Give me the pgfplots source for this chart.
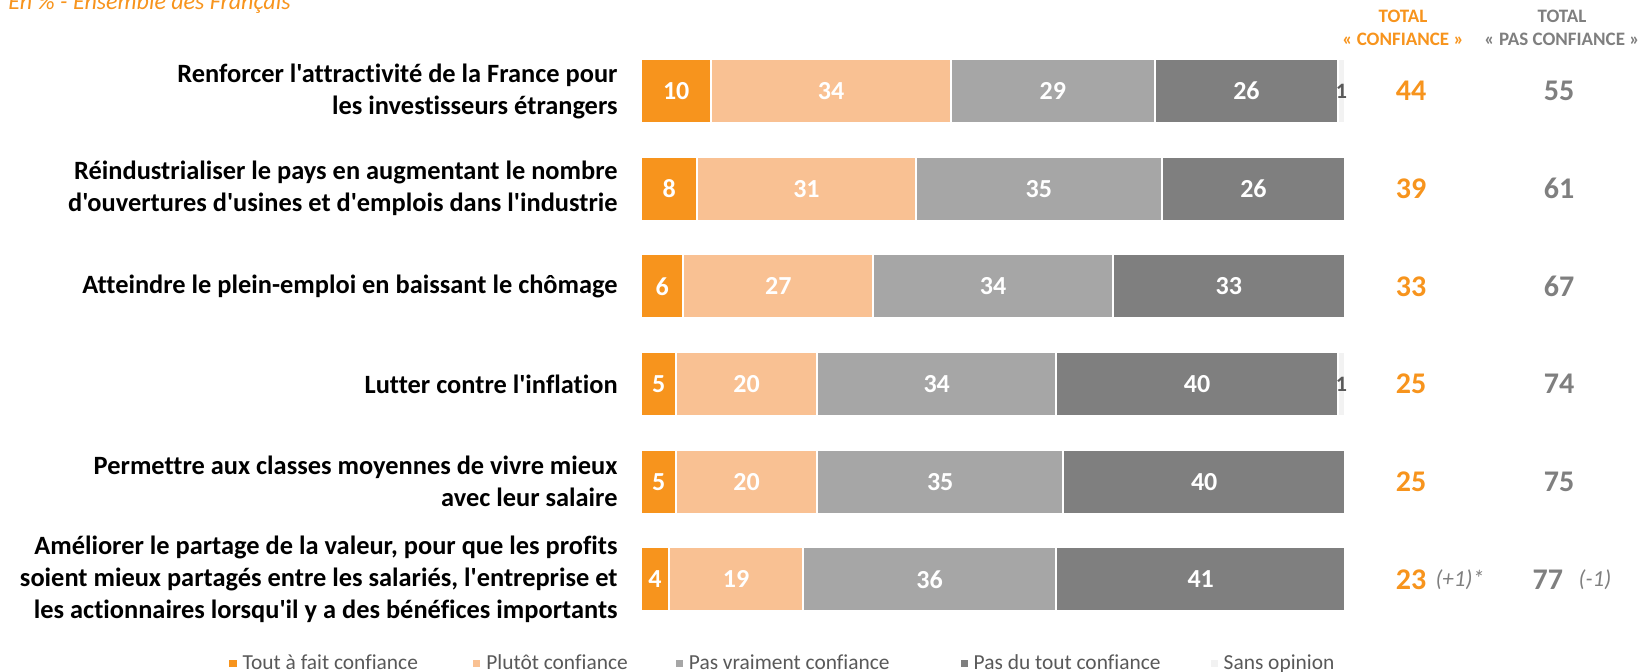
\documentclass[border=0pt]{standalone}
\usepackage{pgfplots}
\pgfplotsset{compat=1.18}
\usepackage{pgfplotstable}
\usepackage{fontspec}
\setmainfont{Carlito}[Ligatures={NoCommon}]
\newfontfamily\carl{Carlito}[Ligatures={NoCommon}]
\definecolor{cA}{HTML}{F7941D}
\definecolor{cB}{HTML}{F9C193}
\definecolor{cC}{HTML}{A6A6A6}
\definecolor{cD}{HTML}{7F7F7F}
\definecolor{cE}{HTML}{F2F2F2}
\definecolor{txtgrey}{HTML}{7F7F7F}
\definecolor{leggrey}{HTML}{595959}

\pgfplotstableread{
row a b c d e
0 10 34 29 26 1
1 8 31 35 26 0
2 6 27 34 33 0
3 5 20 34 40 1
4 5 20 35 40 0
5 4 19 36 41 0
}\data

\pgfplotstableread{
row conf pas pasx
0 44 55 130.4
1 39 61 130.4
2 33 67 130.4
3 25 74 130.4
4 25 75 130.4
5 23 77 128.8
}\totals

\pgfplotsset{
  common/.style={
    scale only axis,
    width=352pt, height=293pt,
    at={(320.5pt,21.4pt)}, anchor=south west,
    xmin=0, xmax=100, ymin=-0.5, ymax=5.5,
    y dir=reverse,
    clip=false,
  },
}

\begin{document}
\begin{tikzpicture}
\useasboundingbox (0,0) rectangle (820pt,335.5pt);

\begin{axis}[common,
  xbar stacked,
  bar width=32pt,
  axis line style={draw=none},
  tick style={draw=none},
  xtick=\empty,
  ytick={0,1,2,3,4,5},
  yticklabels={
    {Renforcer l'attractivité de la France pour\\les investisseurs étrangers},
    {Réindustrialiser le pays en augmentant le nombre\\d'ouvertures d'usines et d'emplois dans l'industrie},
    {Atteindre le plein-emploi en baissant le chômage},
    {Lutter contre l'inflation},
    {Permettre aux classes moyennes de vivre mieux\\avec leur salaire},
    {Améliorer le partage de la valeur, pour que les profits\\soient mieux partagés entre les salariés, l'entreprise et\\les actionnaires lorsqu'il y a des bénéfices importants}
  },
  yticklabel style={align=right, inner sep=0pt, xshift=-11.5pt,
    font=\carl\bfseries\fontsize{13.2}{16}\selectfont, text=black},
  legend columns=5,
  legend style={draw=none, inner sep=0pt, at={(-0.588,-0.0600)}, anchor=west,
    font=\fontsize{10.7}{12}\selectfont, text=leggrey,
    /tikz/every even column/.append style={column sep=22pt}},
  legend image code/.code={\fill[#1] (0pt,-2.3pt) rectangle (4.6pt,2.3pt);},
]
\addplot[fill=cA, draw=white, line width=1pt] table[x=a, y=row]{\data};
\addplot[fill=cB, draw=white, line width=1pt] table[x=b, y=row]{\data};
\addplot[fill=cC, draw=white, line width=1pt] table[x=c, y=row]{\data};
\addplot[fill=cD, draw=white, line width=1pt] table[x=d, y=row]{\data};
\addplot[fill=cE, draw=white, line width=1pt] table[x=e, y=row]{\data};
\legend{Tout à fait confiance\hspace{2.6pt}\mbox{}, Plutôt confiance\hspace{-1pt}\mbox{}, Pas vraiment confiance\hspace{10.5pt}\mbox{}, Pas du tout confiance, Sans opinion}
\end{axis}

\begin{axis}[common, hide axis,
  /pgf/number format/assume math mode=true,
  point meta=explicit,
  nodes near coords,
  every node near coord/.append style={anchor=center, inner sep=0pt,
    font=\bfseries\fontsize{13}{16}\selectfont, text=white},
]
\addplot[draw=none, mark=none] table[x expr=\thisrow{a}/2, y=row, meta=a]{\data};
\addplot[draw=none, mark=none] table[x expr=\thisrow{a}+\thisrow{b}/2, y=row, meta=b]{\data};
\addplot[draw=none, mark=none] table[x expr=\thisrow{a}+\thisrow{b}+\thisrow{c}/2, y=row, meta=c]{\data};
\addplot[draw=none, mark=none] table[x expr=\thisrow{a}+\thisrow{b}+\thisrow{c}+\thisrow{d}/2, y=row, meta=d]{\data};
\addplot[draw=none, mark=none, restrict expr to domain={\thisrow{e}}{0.5:100},
  every node near coord/.append style={text=leggrey, font=\bfseries\fontsize{11}{13}\selectfont}]
  table[x expr=\thisrow{a}+\thisrow{b}+\thisrow{c}+\thisrow{d}+\thisrow{e}/2, y=row, meta=e]{\data};
\addplot[draw=none, mark=none,
  every node near coord/.append style={text=cA, font=\bfseries\fontsize{15}{18}\selectfont}]
  table[x expr=109.4, y=row, meta=conf]{\totals};
\addplot[draw=none, mark=none,
  every node near coord/.append style={text=txtgrey, font=\bfseries\fontsize{15}{18}\selectfont}]
  table[x=pasx, y=row, meta=pas]{\totals};
\node[text=txtgrey, font=\itshape\fontsize{11.5}{13}\selectfont, inner sep=0pt] at (axis cs:116.3,5) {(+1)*};
\node[text=txtgrey, font=\itshape\fontsize{11.5}{13}\selectfont, inner sep=0pt] at (axis cs:135.5,5) {(-1)};
\end{axis}

\node[anchor=base west, inner sep=0pt, text=cA, font=\itshape\fontsize{12}{14}\selectfont] at (4pt,330.5pt) {En \% - Ensemble des Français};
\node[align=center, inner sep=0pt, text=cA, font=\bfseries\fontsize{9.5}{11.5}\selectfont] at (701.5pt,321.75pt) {TOTAL\\« CONFIANCE »};
\node[align=center, inner sep=0pt, text=txtgrey, font=\bfseries\fontsize{9.5}{11.5}\selectfont] at (781pt,321.75pt) {TOTAL\\« PAS CONFIANCE »};
\end{tikzpicture}
\end{document}
